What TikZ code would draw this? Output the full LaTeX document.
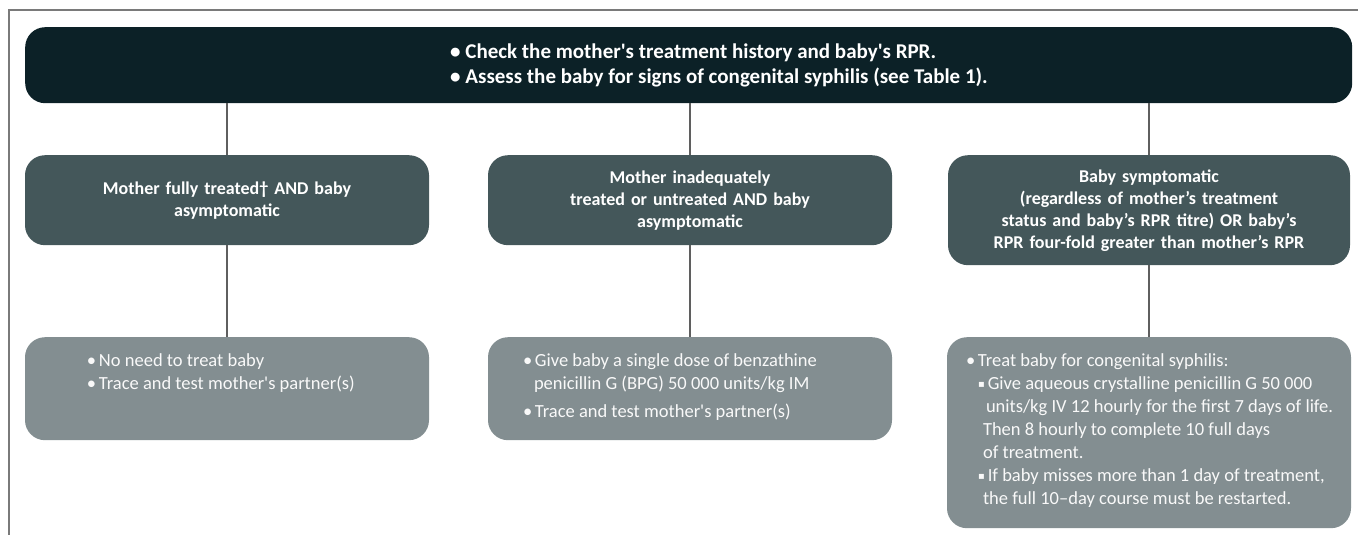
\documentclass[tikz,border=0pt]{standalone}
\usepackage{fontspec}
\setmainfont{Carlito}[Ligatures=TeXOff]
\newfontfamily\symfont{DejaVu Sans}

\definecolor{topcol}{HTML}{0C2127}
\definecolor{midcol}{HTML}{44575A}
\definecolor{lowcol}{HTML}{838E91}
\definecolor{linecol}{HTML}{5F5F5F}
\definecolor{framecol}{HTML}{7A7A7A}

\newcommand\bul{\makebox[12pt][l]{•}}
\newcommand\sqb{\raisebox{1.5pt}{\symfont\fontsize{10}{10}\selectfont ▪}}
\newcommand\lowtext[3]{\parbox[c][#1][t]{404pt}{\raggedright\leftskip=#2\relax\vspace*{16pt}#3}}

\begin{document}
\begin{tikzpicture}[x=1pt,y=-1pt,
        box/.style={rounded corners=20pt, inner sep=0pt, text=white},
        topbox/.style={box, fill=topcol, minimum width=1327pt, minimum height=76pt},
        midbox/.style={box, fill=midcol, minimum width=404pt, text width=396pt, align=center,
            font=\fontsize{18}{22}\selectfont\bfseries},
        lowbox/.style={box, fill=lowcol, text=white!95!lowcol, font=\fontsize{18.5}{23}\selectfont},
        link/.style={draw=linecol, line width=2pt}]
        \useasboundingbox (0,0) rectangle (1358,535);
        \draw[framecol, line width=1.5pt] (1358,10) -- (9,10) -- (9,535);

        \node[topbox, anchor=north west] (top) at (25,27)
            {\parbox{1327pt}{\fontsize{21}{25}\selectfont\bfseries\leftskip=425pt
            • Check the mother's treatment history and baby's RPR.\\
            • Assess the baby for signs of congenital syphilis (see Table 1).}};

        \node[midbox, anchor=north, minimum height=90pt] (m1) at (227,155)
            {Mother fully treated† AND baby\\asymptomatic};
        \node[midbox, anchor=north, minimum height=90pt] (m2) at (690,155)
            {Mother inadequately\\treated or untreated AND baby\\asymptomatic};
        \node[midbox, anchor=north, minimum height=110pt, minimum width=402pt] (m3) at (1149,155)
            {Baby symptomatic\\(regardless of mother’s treatment\\status and baby’s RPR titre) OR baby’s\\RPR four-fold greater than mother’s RPR};

        \node[lowbox, anchor=north] (b1) at (227,337)
            {\lowtext{103pt}{62pt}{\bul No need to treat baby\\
            \bul Trace and test mother's partner(s)}};
        \node[lowbox, anchor=north] (b2) at (690,337)
            {\lowtext{103pt}{35pt}{\bul Give baby a single dose of benzathine\\
            \hspace*{11pt}penicillin G (BPG) 50 000 units/kg IM\\[5pt]
            \bul Trace and test mother's partner(s)}};
        \node[lowbox, anchor=north] (b3) at (1149,337)
            {\lowtext{191pt}{19pt}{\bul Treat baby for congenital syphilis:\\
            \hspace*{12pt}\sqb\hspace{3pt}Give aqueous crystalline penicillin G 50 000\\
            \hspace*{20pt}units/kg IV 12 hourly for the first 7 days of life.\\
            \hspace*{17pt}Then 8 hourly to complete 10 full days\\
            \hspace*{17pt}of treatment.\\
            \hspace*{12pt}\sqb\hspace{3pt}If baby misses more than 1 day of treatment,\\
            \hspace*{17pt}the full 10–day course must be restarted.}};

        \draw[link] (top.south -| m1) -- (m1);
        \draw[link] (top.south -| m2) -- (m2);
        \draw[link] (top.south -| m3) -- (m3);
        \draw[link] (m1) -- (b1);
        \draw[link] (m2) -- (b2);
        \draw[link] (m3) -- (b3);
\end{tikzpicture}
\end{document}
